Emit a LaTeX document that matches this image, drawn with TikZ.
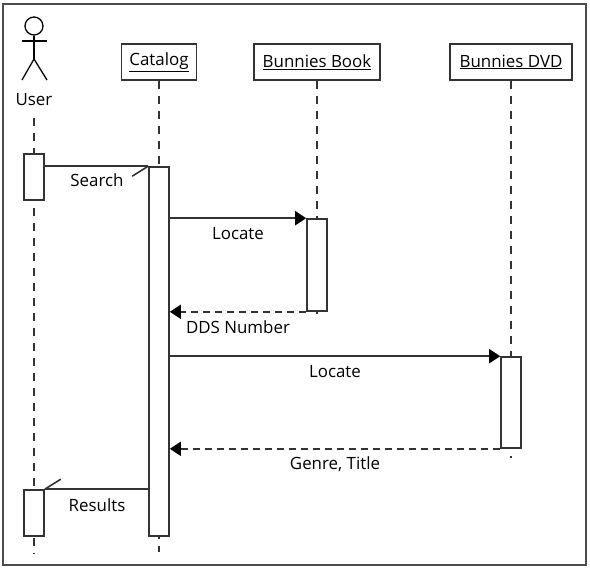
\documentclass[tikz,border=0pt]{standalone}
\usepackage{fontspec}
\setmainfont{Open Sans}
\usepackage{xcolor}
\usetikzlibrary{arrows.meta,calc,positioning}
\definecolor{framegray}{gray}{0.3}
\definecolor{linegray}{gray}{0.2}
\tikzset{
  objbox/.style={draw=linegray,line width=1.6pt,fill=white,minimum height=36pt,inner sep=0pt,font=\fontsize{16.9}{20}\selectfont},
  bar/.style={draw=linegray,line width=1.6pt,fill=white,minimum width=20pt,inner sep=0pt},
  lifeline/.style={draw=linegray,line width=1.6pt,dash pattern=on 8pt off 7pt},
  msg/.style={draw=linegray,line width=1.8pt,-{Triangle[length=11pt,width=14pt,color=black]}},
  retmsg/.style={msg,line width=1.6pt,dash pattern=on 7pt off 5pt},
  plainmsg/.style={draw=linegray,line width=1.6pt},
  lbl/.style={font=\fontsize{16.9}{20}\selectfont,inner sep=0pt},
  stick/.style={draw=black,line width=1.3pt}
}
\begin{document}
\begin{tikzpicture}[x=1pt,y=-1pt,line cap=butt,line join=miter]
\useasboundingbox (0,0) rectangle (590,570);
\draw[framegray,line width=2.5pt] (3,4) rectangle (586,565);
% actor
\node[stick,circle,minimum size=18pt,inner sep=0pt] (head) at (34,26) {};
\coordinate (hip) at (34,59);
\coordinate (armL) at (22,41);
\coordinate (armR) at (47,41);
\coordinate (footL) at (22,80);
\coordinate (footR) at (47,80);
\draw[stick] (head) -- (hip);
\draw[stick] (armL) -- (armR);
\draw[stick] (footL) -- (hip) -- (footR);
\node[lbl] (user) at (34,100) {User};
% objects
\node[objbox,minimum width=75pt] (catalog) at (159,62) {\underline{Catalog}};
\node[objbox,minimum width=126pt] (book) at (317,62) {\underline{Bunnies Book}};
\node[objbox,minimum width=122pt] (dvd) at (511,62) {\underline{Bunnies DVD}};
% lifelines
\coordinate (userTop) at (34,118);
\coordinate (userEnd) at (34,554);
\coordinate (catalogEnd) at (159,552);
\coordinate (bookEnd) at (317,318);
\coordinate (dvdEnd) at (511,458);
\draw[lifeline] (userTop) -- (userEnd);
\draw[lifeline] (catalog.south) -- (catalogEnd);
\draw[lifeline] (book.south) -- (bookEnd);
\draw[lifeline] (dvd.south) -- (dvdEnd);
% activations
\node[bar,minimum height=46pt] (userA) at (34,177) {};
\node[bar,minimum height=46pt] (userB) at (34,513) {};
\node[bar,minimum height=369pt] (catalogA) at (159,351.5) {};
\node[bar,minimum height=92pt] (bookA) at (317,265) {};
\node[bar,minimum height=91pt] (dvdA) at (511,402.5) {};
% messages
\draw[plainmsg] (catalogA.north west -| userA.east) -- (catalogA.north west);
\draw[plainmsg] (catalogA.north west) -- ++(-16,10);
\draw[plainmsg] (userB.north east -| catalogA.west) -- (userB.north east);
\draw[plainmsg] (userB.north east) -- ++(16,-10);
\draw[msg] (bookA.north west -| catalogA.east) -- (bookA.north west);
\draw[retmsg] (bookA.south west) -- (bookA.south west -| catalogA.east);
\draw[msg] (dvdA.north west -| catalogA.east) -- (dvdA.north west);
\draw[retmsg] (dvdA.south west) -- (dvdA.south west -| catalogA.east);
% labels
\node[lbl] (search) at (97,180) {Search};
\node[lbl] (locateA) at (238,234) {Locate};
\node[lbl] (dds) at (238,327) {DDS Number};
\node[lbl] (locateB) at (335,372) {Locate};
\node[lbl] (genre) at (335,464) {Genre, Title};
\node[lbl] (results) at (97,505) {Results};
\end{tikzpicture}
\end{document}
